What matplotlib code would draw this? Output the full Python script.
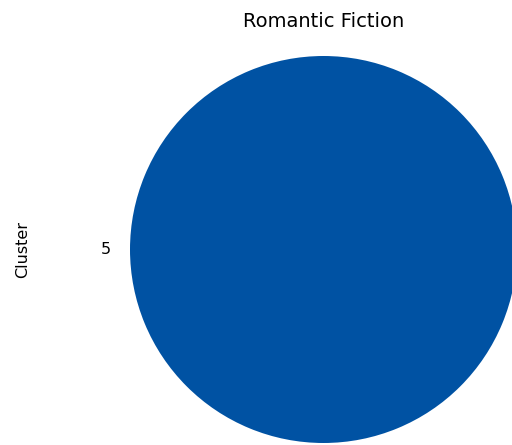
import matplotlib
matplotlib.use("Agg")
import matplotlib.pyplot as plt

clusters = ["5"]
counts = [1]
title = "Romantic Fiction"

fig = plt.figure(figsize=(5.12, 4.45), dpi=100)
ax = fig.add_axes([130 / 512, 2 / 445, 387 / 512, 387 / 445])

ax.pie(counts, labels=clusters, colors=["#0052A3"], labeldistance=1.1,
       textprops={"fontsize": 11.5})
ax.set_xlim(-1, 1)
ax.set_ylim(-1, 1)
for p in ax.patches:
    p.set_clip_on(False)

ax.set_title(title, fontsize=14, pad=21)
ax.set_ylabel("Cluster", fontsize=11.5)
ax.yaxis.set_label_coords(-0.258, 0.5)

fig.savefig("out.png", dpi=100)
